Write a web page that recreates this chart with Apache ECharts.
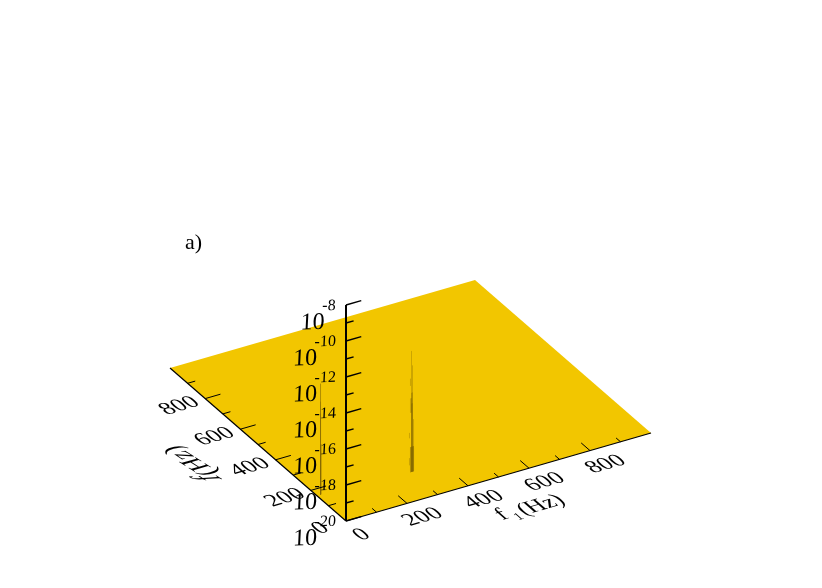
<!DOCTYPE html>
<html>
<head>
<meta charset="utf-8">
<style>html,body{margin:0;background:#fff}#main{width:822px;height:588px}</style>
<script src="https://cdn.jsdelivr.net/npm/echarts@6/dist/echarts.min.js"></script>
</head>
<body>
<div id="main"></div>
<script>
// axis ranges, f in Hz, z is log10 of the spectrum
var fMax = 1000;
var zMin = -20;
var f1TickLabels = [0, 200, 400, 600, 800];
var f2TickLabels = [0, 200, 400, 600, 800];
var fMinorTicks = [100, 200, 300, 400, 500, 600, 700, 800, 900];
var zTicks = [-20, -19, -18, -17, -16, -15, -14, -13, -12, -11, -10, -9, -8];
var zTickLabels = [-20, -18, -16, -14, -12, -10, -8];

// main peak, stacked isosurface slices
var peakAF1Lo = [298.5, 301.8, 295.2, 298.5, 295.2, 305.1, 291.9, 295.2, 291.9, 298.5, 295.2];
var peakAF1Hi = [301.8, 305.1, 298.5, 305.1, 301.8, 308.4, 295.2, 308.4, 295.2, 305.1, 308.4];
var peakAZTop = [-13.28, -14.1, -14.8, -15.6, -15.9, -17.1, -17.8, -18.6, -19.2, -16.2, -18.6];
var peakAZBot = [-20, -20, -15.2, -20, -16.7, -20, -18.1, -20, -19.6, -20, -20];
var peakAF2 = 148;

// smaller peak close to the f2 edge
var peakBF1Lo = [10, 10, 10, 10, 10];
var peakBF1Hi = [13.3, 13.3, 13.3, 13.3, 16.6];
var peakBZTop = [-13.83, -13.83, -14.83, -15.5, -17.2];
var peakBZBot = [-20, -20, -20, -20, -20];
var peakBF2 = 165;

// oblique view: how many screen pixels per unit on each axis
var f1Px = [0.305, -0.088];
var f2Px = [-0.176, -0.153];
var zPx = -18;
var uRange = -f2Px[0] * fMax;
var vRange = -(f1Px[1] + f2Px[1]) * fMax;

function project(f1, f2, z) {
  var dz = z === undefined ? 0 : z - zMin;
  var px = f1 * f1Px[0] + f2 * f2Px[0];
  var py = -(f1 * f1Px[1] + f2 * f2Px[1] + dz * zPx);
  return [px, py];
}

var GOLD = '#f2c600';
var SERIF = '"Liberation Serif"';

function line(api, a, b, w) {
  var p = api.coord(a), q = api.coord(b);
  return {type: 'line', shape: {x1: p[0], y1: p[1], x2: q[0], y2: q[1]},
    style: {stroke: '#000', lineWidth: w}};
}

// text lying in a plane: split the affine map in rotate, scale, rotate
function planeText(pos, str, size, ex, up, align) {
  var m00 = ex[0], m10 = ex[1], m01 = -up[0], m11 = -up[1];
  var E = (m00 + m11) / 2, F = (m00 - m11) / 2, G = (m10 + m01) / 2, H = (m10 - m01) / 2;
  var Q = Math.sqrt(E * E + H * H), R = Math.sqrt(F * F + G * G);
  var a1 = Math.atan2(G, F), a2 = Math.atan2(H, E);
  return {
    type: 'group', x: pos[0], y: pos[1],
    rotation: -(a2 + a1) / 2, scaleX: Q + R, scaleY: Q - R,
    children: [{
      type: 'text', rotation: -(a2 - a1) / 2,
      style: {text: str, x: 0, y: 0, fill: '#000', font: size + 'px ' + SERIF,
        align: align || 'center', verticalAlign: 'middle'}
    }]
  };
}

var floorX = [0.96, -0.277];
var floorUp = [-0.72, -0.63];
var titleX = [-0.98, -0.62];
var titleUp = [-1.05, 0.3];
var titleFUp = [-1.6, 0.1];
var zX = [1, -0.03];
var zUp = [0.05, -1];

function drawFloor(params, api) {
  var pts = [project(0, 0), project(fMax, 0), project(fMax, fMax), project(0, fMax)].map(api.coord);
  return {type: 'polygon', shape: {points: pts}, style: {fill: GOLD}};
}

function peakSeries(lo, hi, f2, top, bot) {
  return {
    type: 'custom', coordinateSystem: 'cartesian2d', silent: true, clip: false,
    data: lo.map(function (v, i) { return [v, hi[i], top[i], bot[i]]; }),
    encode: {x: 0, y: 2},
    renderItem: function (params, api) {
      var l = api.value(0), h = api.value(1), t = api.value(2), b = api.value(3);
      var pts = [project(l, f2, b), project(h, f2, b), project(h, f2, t), project(l, f2, t)].map(api.coord);
      return {type: 'polygon', shape: {points: pts}, style: {fill: 'rgba(115,90,0,0.3)'}};
    }
  };
}

function drawAxes(params, api) {
  var kids = [];
  kids.push(line(api, project(0, 0), project(fMax, 0), 1.2));
  kids.push(line(api, project(0, 0), project(0, fMax), 1.2));
  kids.push(line(api, project(0, 0, zMin), project(0, 0, -8), 2));
  fMinorTicks.forEach(function (f) {
    var len = f % 200 === 0 ? 50 : 25;
    kids.push(line(api, project(f, 0), project(f, len), 1));
    kids.push(line(api, project(0, f), project(len, f), 1));
  });
  zTicks.forEach(function (z) {
    var len = z % 2 === 0 ? 50 : 25;
    kids.push(line(api, project(0, 0, z), project(len, 0, z), 1.4));
  });
  return {type: 'group', children: kids};
}

function drawLabels(params, api) {
  var kids = [];
  f1TickLabels.forEach(function (f) {
    kids.push(planeText(api.coord(project(f, -90)), String(f), 24, floorX, floorUp));
  });
  f2TickLabels.forEach(function (f) {
    kids.push(planeText(api.coord(project(-84, f)), String(f), 24, floorX, floorUp));
  });
  zTickLabels.forEach(function (z) {
    var exp = String(z);
    var anchor = api.coord(project(-95, -102, z));
    var w = exp.length === 2 ? 12 : 19.5;
    kids.push(planeText([anchor[0] - w - 10.5, anchor[1] - 6], '10', 24, zX, zUp));
    kids.push(planeText([anchor[0] - w / 2, anchor[1] - 23], exp, 16, zX, zUp));
  });
  kids.push(planeText(api.coord(project(401, -191)), 'f', 24, floorX, floorUp));
  kids.push(planeText(api.coord(project(437, -225)), '1', 14, floorX, floorUp));
  kids.push(planeText(api.coord(project(525, -198)), '(Hz)', 24, floorX, floorUp));
  kids.push(planeText(api.coord(project(-215, 405)), 'f', 24, titleX, titleFUp));
  kids.push(planeText(api.coord(project(-210, 515)), '(Hz)', 24, titleX, titleUp));
  return {type: 'group', children: kids};
}

function single(render) {
  return {type: 'custom', coordinateSystem: 'cartesian2d', silent: true, clip: false,
    data: [[0, 0]], renderItem: render};
}

var chart = echarts.init(document.getElementById('main'), null, {renderer: 'canvas'});
chart.setOption({
  animation: false,
  backgroundColor: '#fff',
  title: {text: 'a)', left: 185, top: 232, padding: 0,
    textStyle: {fontFamily: SERIF, fontSize: 22, fontWeight: 'normal', color: '#000'}},
  grid: {left: 346 - uRange, width: uRange + f1Px[0] * fMax, top: 521 - vRange, height: vRange},
  xAxis: {type: 'value', show: false, min: -uRange, max: f1Px[0] * fMax},
  yAxis: {type: 'value', show: false, min: 0, max: vRange},
  series: [
    single(drawFloor),
    peakSeries(peakBF1Lo, peakBF1Hi, peakBF2, peakBZTop, peakBZBot),
    peakSeries(peakAF1Lo, peakAF1Hi, peakAF2, peakAZTop, peakAZBot),
    single(drawAxes),
    single(drawLabels)
  ]
});
</script>
</body>
</html>
